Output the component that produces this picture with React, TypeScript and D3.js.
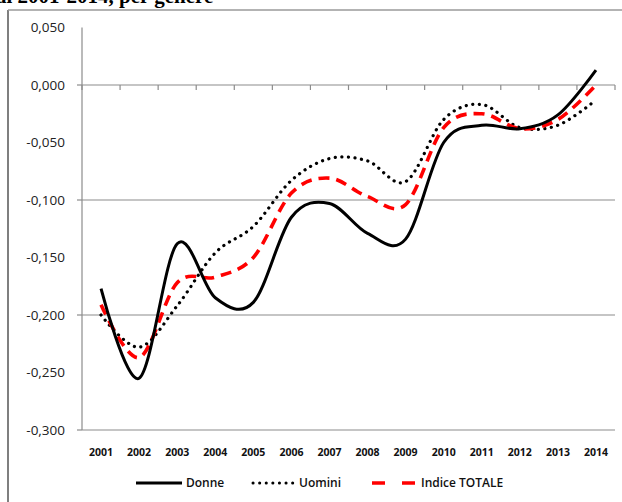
import React from "react";
import * as d3 from "d3";

const years = ["2001","2002","2003","2004","2005","2006","2007","2008","2009","2010","2011","2012","2013","2014"];
const donne = [-0.177,-0.255,-0.138,-0.185,-0.189,-0.115,-0.103,-0.129,-0.134,-0.050,-0.035,-0.038,-0.026,0.013];
const uomini = [-0.200,-0.228,-0.192,-0.146,-0.123,-0.083,-0.064,-0.066,-0.084,-0.030,-0.017,-0.037,-0.035,-0.013];
const totale = [-0.191,-0.237,-0.172,-0.167,-0.150,-0.094,-0.081,-0.097,-0.104,-0.037,-0.025,-0.038,-0.030,0.000];
const yTicks = [0.05,0,-0.05,-0.1,-0.15,-0.2,-0.25,-0.3];
const gridTicks = [0,-0.1,-0.2,-0.3];
const titleText = "al 2001-2014, per genere";

const W = 622, H = 502;
const left = 82, right = 615, top = 27.5, bottom = 430;

export default function App() {
  const x = d3.scaleBand<string>().domain(years).range([left, right]);
  const y = d3.scaleLinear().domain([0.05, -0.3]).range([top, bottom]);
  const cx = (i: number) => (x(years[i]) as number) + x.bandwidth() / 2;
  const line = d3.line<number>().x((_, i) => cx(i)).y(d => y(d)).curve(d3.curveCardinal.tension(0));
  const fmt = (v: number) => (Math.abs(v) < 1e-9 ? "0,000" : d3.format(".3f")(v).replace("−", "-").replace(".", ","));
  const boundaries = years.map((yr) => x(yr) as number).concat([right]);
  const grey = "#8c8c8c";
  return (
    <svg width={W} height={H} style={{ position: "absolute", left: 0, top: 0 }}>
      <rect x={0} y={0} width={W} height={H} fill="#fff" />
      <text x={-4} y={3} fontFamily="Liberation Serif" fontWeight="bold" fontSize={21} fill="#000">{titleText}</text>
      <line x1={8} x2={8} y1={10} y2={H} stroke="#7f7f7f" strokeWidth={2} />
      <line x1={8} x2={W} y1={10} y2={10} stroke="#9a9a9a" strokeWidth={1.5} />
      {gridTicks.map(t => (
        <g key={t}>
          <line x1={left} x2={right} y1={y(t)} y2={y(t)} stroke={grey} strokeWidth={1.2} />
          <line x1={left - 5} x2={left} y1={y(t)} y2={y(t)} stroke={grey} strokeWidth={1.2} />
        </g>
      ))}
      <line x1={left} x2={left} y1={top} y2={bottom} stroke={grey} strokeWidth={1.2} />
      {boundaries.map((b, i) => (
        <line key={i} x1={b} x2={b} y1={y(0)} y2={y(0) + 5} stroke={grey} strokeWidth={1.2} />
      ))}
      {yTicks.map(t => (
        <text key={t} x={65} y={y(t)} dy="0.35em" textAnchor="end" fontFamily="Open Sans" fontSize={13.5} fill="#222">{fmt(t)}</text>
      ))}
      {years.map((yr, i) => (
        <text key={yr} x={cx(i)} y={452} dy="0.35em" textAnchor="middle" fontFamily="Open Sans" fontWeight="bold" fontSize={10.5} fill="#111">{yr}</text>
      ))}
      <path d={line(uomini) || ""} fill="none" stroke="#000" strokeWidth={3.2} strokeDasharray="0.1 6.5" strokeLinecap="round" />
      <path d={line(totale) || ""} fill="none" stroke="#ff0000" strokeWidth={3.6} strokeDasharray="11 7" />
      <path d={line(donne) || ""} fill="none" stroke="#000" strokeWidth={3} />
      <g fontFamily="Open Sans" fontWeight="600" fontSize={12} fill="#111">
        <line x1={136} x2={182} y1={483} y2={483} stroke="#000" strokeWidth={3} />
        <text x={186} y={483} dy="0.35em">Donne</text>
        <line x1={253} x2={294} y1={483} y2={483} stroke="#000" strokeWidth={3} strokeDasharray="0.1 6.5" strokeLinecap="round" />
        <text x={299} y={483} dy="0.35em">Uomini</text>
        <line x1={372} x2={416} y1={483} y2={483} stroke="#ff0000" strokeWidth={3.6} strokeDasharray="13 17" />
        <text x={421} y={483} dy="0.35em">Indice TOTALE</text>
      </g>
    </svg>
  );
}
